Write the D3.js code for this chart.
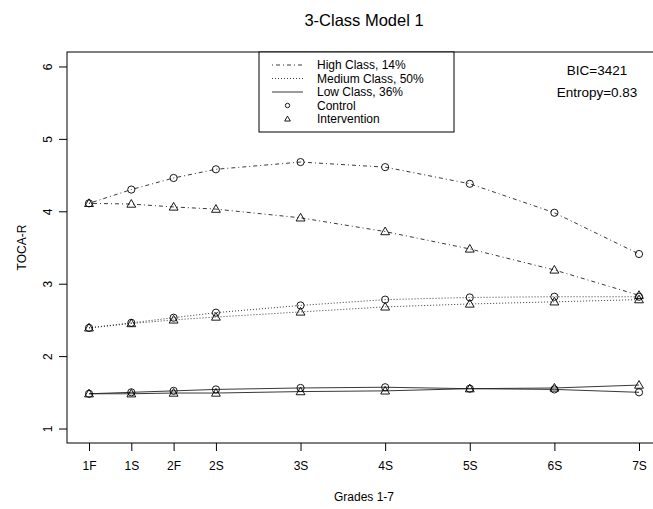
<!DOCTYPE html>
<html>
<head>
<meta charset="utf-8">
<script src="https://cdn.jsdelivr.net/npm/d3@7"></script>
<style>
  body { margin: 0; background: #fff; }
  text { font-family: "Liberation Sans", Arial, sans-serif; fill: #000; }
</style>
</head>
<body>
<svg id="chart" width="653" height="509"></svg>
<script>
// grade labels and their positions in years from 1F
let grades    = ["1F","1S","2F","2S","3S","4S","5S","6S","7S"];
let gradeTime = [0, 0.5, 1, 1.5, 2.5, 3.5, 4.5, 5.5, 6.5];
let yTicks    = [1, 2, 3, 4, 5, 6];

// estimated class means
let highControl  = [4.11, 4.30, 4.46, 4.58, 4.68, 4.61, 4.38, 3.98, 3.41];
let highInterv   = [4.11, 4.10, 4.06, 4.03, 3.91, 3.72, 3.48, 3.19, 2.84];
let medControl   = [2.39, 2.46, 2.53, 2.60, 2.70, 2.78, 2.81, 2.82, 2.82];
let medInterv    = [2.39, 2.45, 2.50, 2.54, 2.61, 2.68, 2.72, 2.75, 2.78];
let lowControl   = [1.48, 1.50, 1.52, 1.54, 1.56, 1.57, 1.55, 1.54, 1.50];
let lowInterv    = [1.48, 1.48, 1.49, 1.49, 1.51, 1.52, 1.55, 1.56, 1.60];

let legendLabels = ["High Class, 14%","Medium Class, 50%","Low Class, 36%","Control","Intervention"];

let series = [
  {vals: highControl, dash: "1,3,4,3", sym: "circle"},
  {vals: highInterv,  dash: "1,3,4,3", sym: "triangle"},
  {vals: medControl,  dash: "1,2",     sym: "circle"},
  {vals: medInterv,   dash: "1,2",     sym: "triangle"},
  {vals: lowControl,  dash: null,      sym: "circle"},
  {vals: lowInterv,   dash: null,      sym: "triangle"}
];

let svg = d3.select("#chart");
let plotLeft = 67, plotRight = 661, plotTop = 52, plotBottom = 443;

let x = d3.scaleLinear().domain([-0.26, 6.76]).range([plotLeft, plotRight]);
let y = d3.scaleLinear().domain([0.8, 6.2]).range([plotBottom, plotTop]);

// title
svg.append("text").attr("x", (plotLeft+plotRight)/2).attr("y", 26)
   .attr("text-anchor","middle").style("font-size","16.5px").text("3-Class Model 1");

// x axis
let xAxis = svg.append("g").attr("transform","translate(0,"+plotBottom+")")
   .call(d3.axisBottom(x).tickValues(gradeTime).tickSize(8).tickPadding(10)
         .tickFormat((d,i) => grades[i]));
xAxis.select(".domain").remove();
xAxis.selectAll("text").style("font-size","12px").style("font-family","Liberation Sans, Arial, sans-serif");

// y axis, rotated labels like R
let yAxis = svg.append("g").attr("transform","translate("+plotLeft+",0)")
   .call(d3.axisLeft(y).tickValues(yTicks).tickSize(8).tickFormat(d3.format("d")));
yAxis.select(".domain").remove();
yAxis.selectAll(".tick text")
   .attr("x", null).attr("dy", null)
   .attr("text-anchor","middle")
   .attr("transform","translate(-19,0) rotate(-90)")
   .attr("dy","0.35em")
   .style("font-size","12px").style("font-family","Liberation Sans, Arial, sans-serif");

// plot box
svg.append("rect").attr("x", plotLeft).attr("y", plotTop)
   .attr("width", plotRight-plotLeft).attr("height", plotBottom-plotTop)
   .attr("fill","none").attr("stroke","#000").attr("stroke-width",1);

// axis titles
svg.append("text").attr("x",(plotLeft+plotRight)/2).attr("y",501)
   .attr("text-anchor","middle").style("font-size","12px").text("Grades 1-7");
svg.append("text").attr("transform","translate(26,"+((plotTop+plotBottom)/2)+") rotate(-90)")
   .attr("text-anchor","middle").style("font-size","12px").text("TOCA-R");

// lines
let line = d3.line().x((d,i) => x(gradeTime[i])).y(d => y(d));
let tri = d3.symbol().type(d3.symbolTriangle).size(34);

series.forEach(function(s){
  svg.append("path").attr("d", line(s.vals))
     .attr("fill","none").attr("stroke","#222").attr("stroke-width",0.9)
     .attr("stroke-dasharray", s.dash);
});
series.forEach(function(s){
  let g = svg.append("g");
  s.vals.forEach(function(v,i){
    if (s.sym === "circle") {
      g.append("circle").attr("cx", x(gradeTime[i])).attr("cy", y(v)).attr("r",3.6)
       .attr("fill","none").attr("stroke","#000").attr("stroke-width",0.9);
    } else {
      g.append("path").attr("d", tri())
       .attr("transform","translate("+x(gradeTime[i])+","+(y(v)+0.6)+")")
       .attr("fill","none").attr("stroke","#000").attr("stroke-width",0.9);
    }
  });
});

// legend
let lg = svg.append("g");
lg.append("rect").attr("x",259).attr("y",plotTop).attr("width",195).attr("height",80)
  .attr("fill","#fff").attr("stroke","#000").attr("stroke-width",1);
let dashes = ["1,3,4,3","1,2",null];
legendLabels.forEach(function(lab,i){
  let ly = 65 + i*13.5;
  if (i < 3) {
    lg.append("line").attr("x1",272).attr("x2",303).attr("y1",ly).attr("y2",ly)
      .attr("stroke","#222").attr("stroke-width",0.9).attr("stroke-dasharray",dashes[i]);
  } else if (i === 3) {
    lg.append("circle").attr("cx",287.5).attr("cy",ly).attr("r",2.2)
      .attr("fill","none").attr("stroke","#000").attr("stroke-width",0.9);
  } else {
    lg.append("path").attr("d", d3.symbol().type(d3.symbolTriangle).size(14)())
      .attr("transform","translate(287.5,"+(ly+0.4)+")")
      .attr("fill","none").attr("stroke","#000").attr("stroke-width",0.9);
  }
  lg.append("text").attr("x",317).attr("y",ly).attr("dy","0.35em")
    .style("font-size","12px").text(lab);
});

// fit stats
svg.append("text").attr("x",597).attr("y",70).attr("dy","0.35em")
   .attr("text-anchor","middle").style("font-size","13.5px").text("BIC=3421");
svg.append("text").attr("x",597).attr("y",92).attr("dy","0.35em")
   .attr("text-anchor","middle").style("font-size","13.5px").text("Entropy=0.83");
</script>
</body>
</html>
